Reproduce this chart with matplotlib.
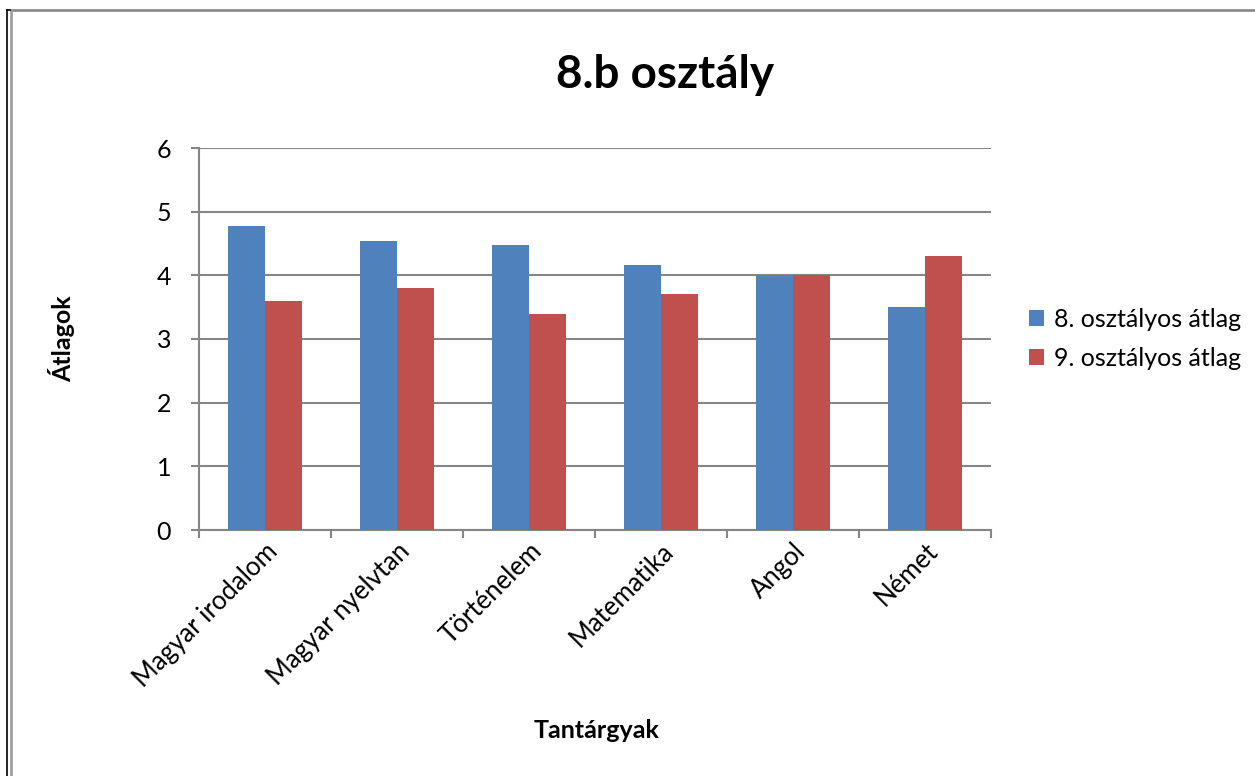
import matplotlib
matplotlib.use("Agg")
import matplotlib.pyplot as plt
from matplotlib.lines import Line2D
import numpy as np

categories = ["Magyar irodalom", "Magyar nyelvtan", "Történelem", "Matematika", "Angol", "Német"]
series_names = ["8. osztályos átlag", "9. osztályos átlag"]
values_8 = [4.77, 4.54, 4.47, 4.16, 4.0, 3.5]
values_9 = [3.6, 3.8, 3.4, 3.7, 4.0, 4.3]
y_ticks = [0, 1, 2, 3, 4, 5, 6]

FONT = ["Lato", "DejaVu Sans"]
plt.rcParams['font.family'] = FONT

W, H = 1255, 776
fig = plt.figure(figsize=(W / 100, H / 100), dpi=100)
ax = fig.add_axes([199 / W, 1 - 530 / H, (991 - 199) / W, (530 - 148) / H])

blue = "#4F81BD"
red = "#C0504D"
grey = "#868686"

x = np.arange(len(categories))
bw = 0.28
ax.bar(x - bw / 2, values_8, width=bw, color=blue, label=series_names[0], zorder=3)
ax.bar(x + bw / 2, values_9, width=bw, color=red, label=series_names[1], zorder=3)

ax.set_xlim(-0.5, len(categories) - 0.5)
ax.set_ylim(0, 6)
ax.set_yticks(y_ticks)
ax.set_yticklabels([str(v) for v in y_ticks], fontsize=18)

ax.set_xticks(x)
ax.set_xticklabels(categories, rotation=45, ha="right", rotation_mode="anchor", fontsize=18.5)
ax.tick_params(axis="x", length=0, pad=6)
ax.set_xticks(np.arange(len(categories) + 1) - 0.5, minor=True)
ax.tick_params(axis="x", which="minor", length=6, color=grey, width=1.5, direction="out")
ax.tick_params(axis="y", length=6, color=grey, width=1.5, direction="out", pad=14)

ax.grid(axis="y", color=grey, linewidth=1.5, zorder=0)
ax.set_axisbelow(True)
for s in ["top", "right"]:
    ax.spines[s].set_visible(False)
for s in ["left", "bottom"]:
    ax.spines[s].set_color(grey)
    ax.spines[s].set_linewidth(1.5)

ax.set_ylabel("Átlagok", fontsize=18, fontweight="bold")
ax.set_xlabel("Tantárgyak", fontsize=18, fontweight="bold")
ax.xaxis.set_label_coords((597 - 199) / (991 - 199), -(731 - 530) / (530 - 148))
ax.yaxis.set_label_coords(-(199 - 62) / (991 - 199), 0.5)
ax.xaxis.label.set_va("center")
ax.yaxis.label.set_va("center")

fig.text(665 / W, 1 - 75 / H, "8.b osztály", fontsize=33, fontweight="bold",
         ha="center", va="center")

leg = ax.legend(loc="center left", bbox_to_anchor=(1.02, 0.5), frameon=False,
                fontsize=18, handlelength=0.6, handleheight=0.6, handletextpad=0.4,
                labelspacing=0.65)

# chart frame (top and left edges only visible)
fig.add_artist(Line2D([10.5 / W, 1.0], [1 - 10 / H, 1 - 10 / H], transform=fig.transFigure,
                      color="#8c8c8c", linewidth=2))
fig.add_artist(Line2D([10.5 / W, 10.5 / W], [1 - 10 / H, 0], transform=fig.transFigure,
                      color="#a0a0a0", linewidth=2))
fig.add_artist(Line2D([6.5 / W, 6.5 / W], [1 - 10 / H, 0], transform=fig.transFigure,
                      color="black", linewidth=1.2))
fig.add_artist(Line2D([6.5 / W, 10 / W], [1 - 10 / H, 1 - 10 / H], transform=fig.transFigure,
                      color="black", linewidth=1.2))

fig.savefig("out.png", dpi=100)
